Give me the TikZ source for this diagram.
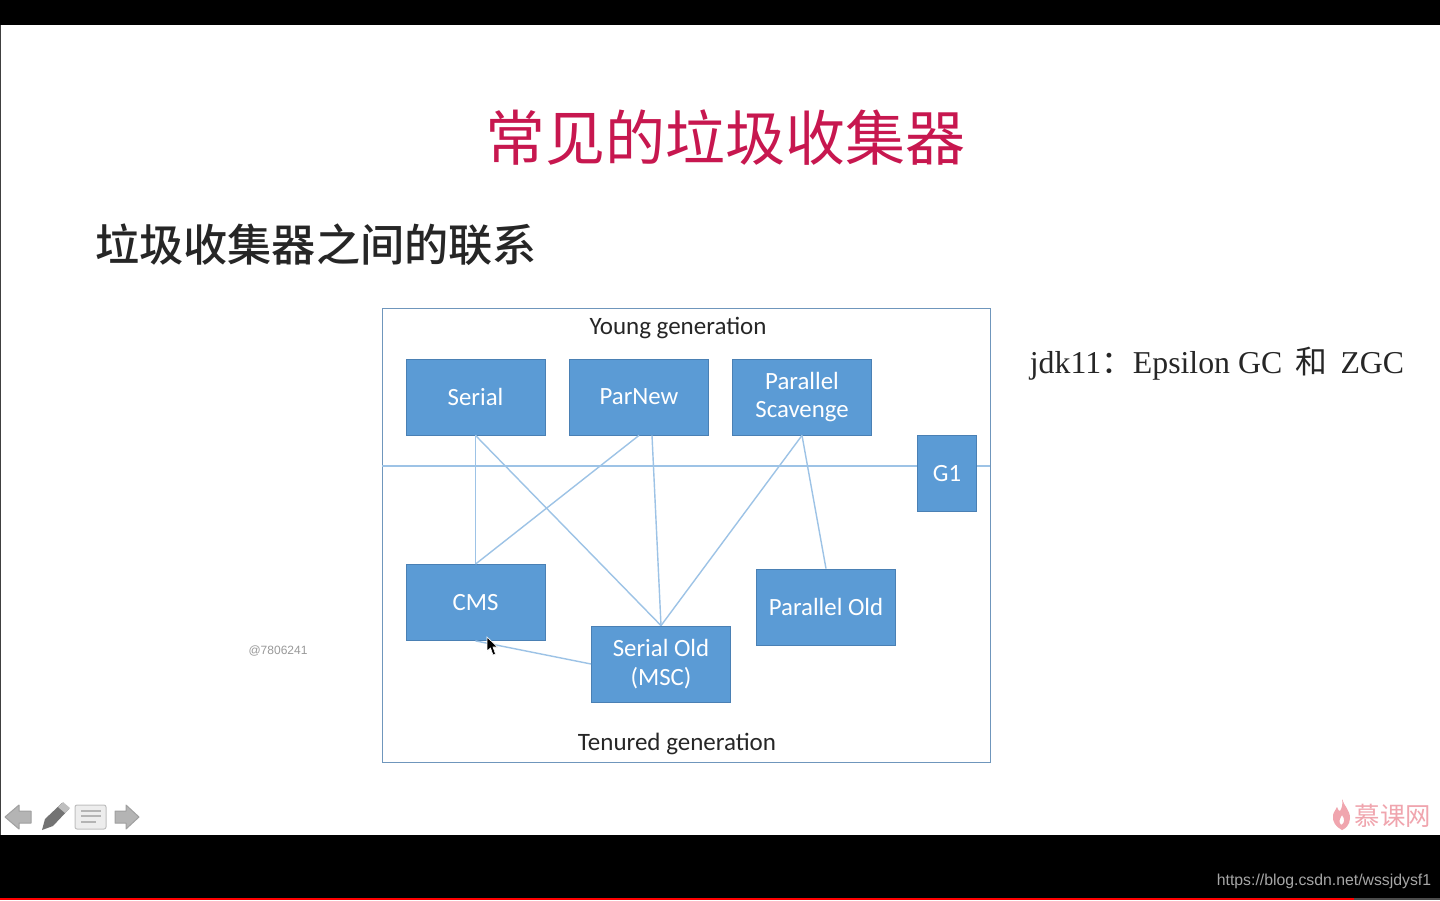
\documentclass[tikz,border=0pt]{standalone}
\usepackage{fontspec}
\setmainfont{Carlito}
\newfontfamily\cjk{Noto Sans CJK SC}
\newfontfamily\cjkmid{Noto Sans CJK SC Medium}
\newfontfamily\serifface{Liberation Serif}
\newfontfamily\webface{Liberation Sans}
\usepackage{tikz}
\usetikzlibrary{}

\definecolor{boxfill}{HTML}{5B9BD5}
\definecolor{boxedge}{HTML}{4A80B4}
\definecolor{linkcol}{HTML}{9DC3E6}
\definecolor{framecol}{HTML}{6F96BC}
\definecolor{titlecol}{HTML}{C7174F}
\definecolor{logocol}{HTML}{F0A5AE}
\definecolor{iconcol}{HTML}{B4B4B4}
\definecolor{iconedge}{HTML}{A0A0A0}

\tikzset{
    gcbox/.style={draw=boxedge, fill=boxfill, text=white, align=center, font=\fontsize{12.4}{14.2}\selectfont,
        minimum width=69.5pt, minimum height=38pt, inner sep=0pt},
    link/.style={draw=linkcol, line width=0.7pt},
    caption/.style={text=black!85, font=\fontsize{12.5}{14}\selectfont, inner sep=0pt},
    icon/.style={fill=iconcol, draw=iconedge, line width=0.5pt, line join=round}
}

\begin{document}
\begin{tikzpicture}[x=0.5pt, y=-0.5pt]
    \useasboundingbox (0,0) rectangle (1440,900);
    \fill[white] (0,0) rectangle (1440,900);

    % screen bars
    \fill[black] (0,0) rectangle (1440,25);
    \fill[black] (0,835) rectangle (1440,900);
    \fill[black!75] (0,25) rectangle (1,835);
    \fill[red] (0,897.5) rectangle (1354,900);
    \fill[black!70] (1354,897.5) rectangle (1440,900);

    % headings
    \node[text=titlecol, font=\cjk\fontsize{30}{32}\selectfont, inner sep=0pt] (title) at (725,138) {常见的垃圾收集器};
    \node[text=black!85, font=\cjkmid\fontsize{22.1}{24}\selectfont, inner sep=0pt] (subtitle) at (316,245) {垃圾收集器之间的联系};

    % frame
    \node[draw=framecol, line width=0.45pt, minimum width=304pt, minimum height=227pt, inner sep=0pt] (frame) at (686,535) {};
    \coordinate (midleft) at (382,466);
    \coordinate (midright) at (990,466);
    \draw[link] (midleft) -- (midright);

    \node[caption] (young) at (678,328) {Young generation};
    \node[caption] (tenured) at (677,744) {Tenured generation};

    % collectors
    \node[gcbox] (serial) at (475.5,397) {Serial};
    \node[gcbox] (parnew) at (639,397) {ParNew};
    \node[gcbox] (scavenge) at (802,397) {Parallel\\Scavenge};
    \node[gcbox, minimum width=29.5pt] (g1) at (947,473.5) {G1};
    \node[gcbox] (cms) at (475.5,602.5) {CMS};
    \node[gcbox] (serialold) at (661,664) {Serial Old\\(MSC)};
    \node[gcbox] (parallelold) at (826,607) {Parallel Old};

    \draw[link] (serial.south) -- (cms.north);
    \draw[link] (serial.south) -- (serialold.north);
    \draw[link] (parnew.south) -- (cms.north);
    \draw[link] ([xshift=6.5pt]parnew.south) -- (serialold.north);
    \draw[link] (scavenge.south) -- (serialold.north);
    \draw[link] (scavenge.south) -- (parallelold.north);
    \draw[link] (cms.south) -- (serialold.west);

    \node[inner sep=0pt, text=black!85, font=\serifface\fontsize{15.9}{18}\selectfont] (jdknote) at (1217,364) {jdk11{\cjk：}Epsilon GC\, {\cjk 和}\, ZGC};
    \node[inner sep=0pt, text=black!40, font=\webface\fontsize{6}{7}\selectfont] (watermark) at (278,651) {@7806241};
    \node[inner sep=0pt, text=white!65!black, font=\webface\fontsize{7.9}{10}\selectfont] (weburl) at (1324,881) {https://blog.csdn.net/wssjdysf1};

    % mouse pointer
    \fill[black, draw=white, line width=0.3pt] (487,637) -- (487,651) -- (490.5,648) -- (493,655) -- (495.5,654) -- (493,647) -- (497.5,647) -- cycle;

    % slide controls
    \draw[icon] (5,817) -- (19,805) -- (19,811) -- (31,811) -- (31,823) -- (19,823) -- (19,829) -- cycle;
    \fill[black!55] (42,830) -- (45,819) -- (62,803) -- (69,809) -- (53,826) -- cycle;
    \fill[black!25] (58,807) -- (63,802) -- (70,808) -- (65,813) -- cycle;
    \draw[fill=black!7, draw=black!25, line width=0.5pt, rounded corners=1pt] (75,805) rectangle (106,829);
    \foreach \y/\xend in {811/101, 816/101, 822/96}
        \draw[iconcol, line width=0.8pt] (81,\y) -- (\xend,\y);
    \draw[icon] (139,817) -- (126,805) -- (126,811) -- (115,811) -- (115,823) -- (126,823) -- (126,829) -- cycle;

    % logo
    \fill[logocol, even odd rule] (1342,799) .. controls (1344,806) and (1350,810) .. (1350,818)
        .. controls (1350,825) and (1345,829) .. (1342,830)
        .. controls (1336,827) and (1332,822) .. (1333,815)
        .. controls (1334,811) and (1336,810) .. (1337,807)
        .. controls (1338,810) and (1339,811) .. (1340,811)
        .. controls (1342,808) and (1343,804) .. (1342,799) -- cycle
        (1342,815) .. controls (1340,819) and (1338,821) .. (1341,825)
        .. controls (1345,823) and (1345,819) .. (1342,815) -- cycle;
    \node[inner sep=0pt, text=logocol, font=\cjk\fontsize{12.7}{14}\selectfont] (logotext) at (1393,816) {慕课网};
\end{tikzpicture}
\end{document}
